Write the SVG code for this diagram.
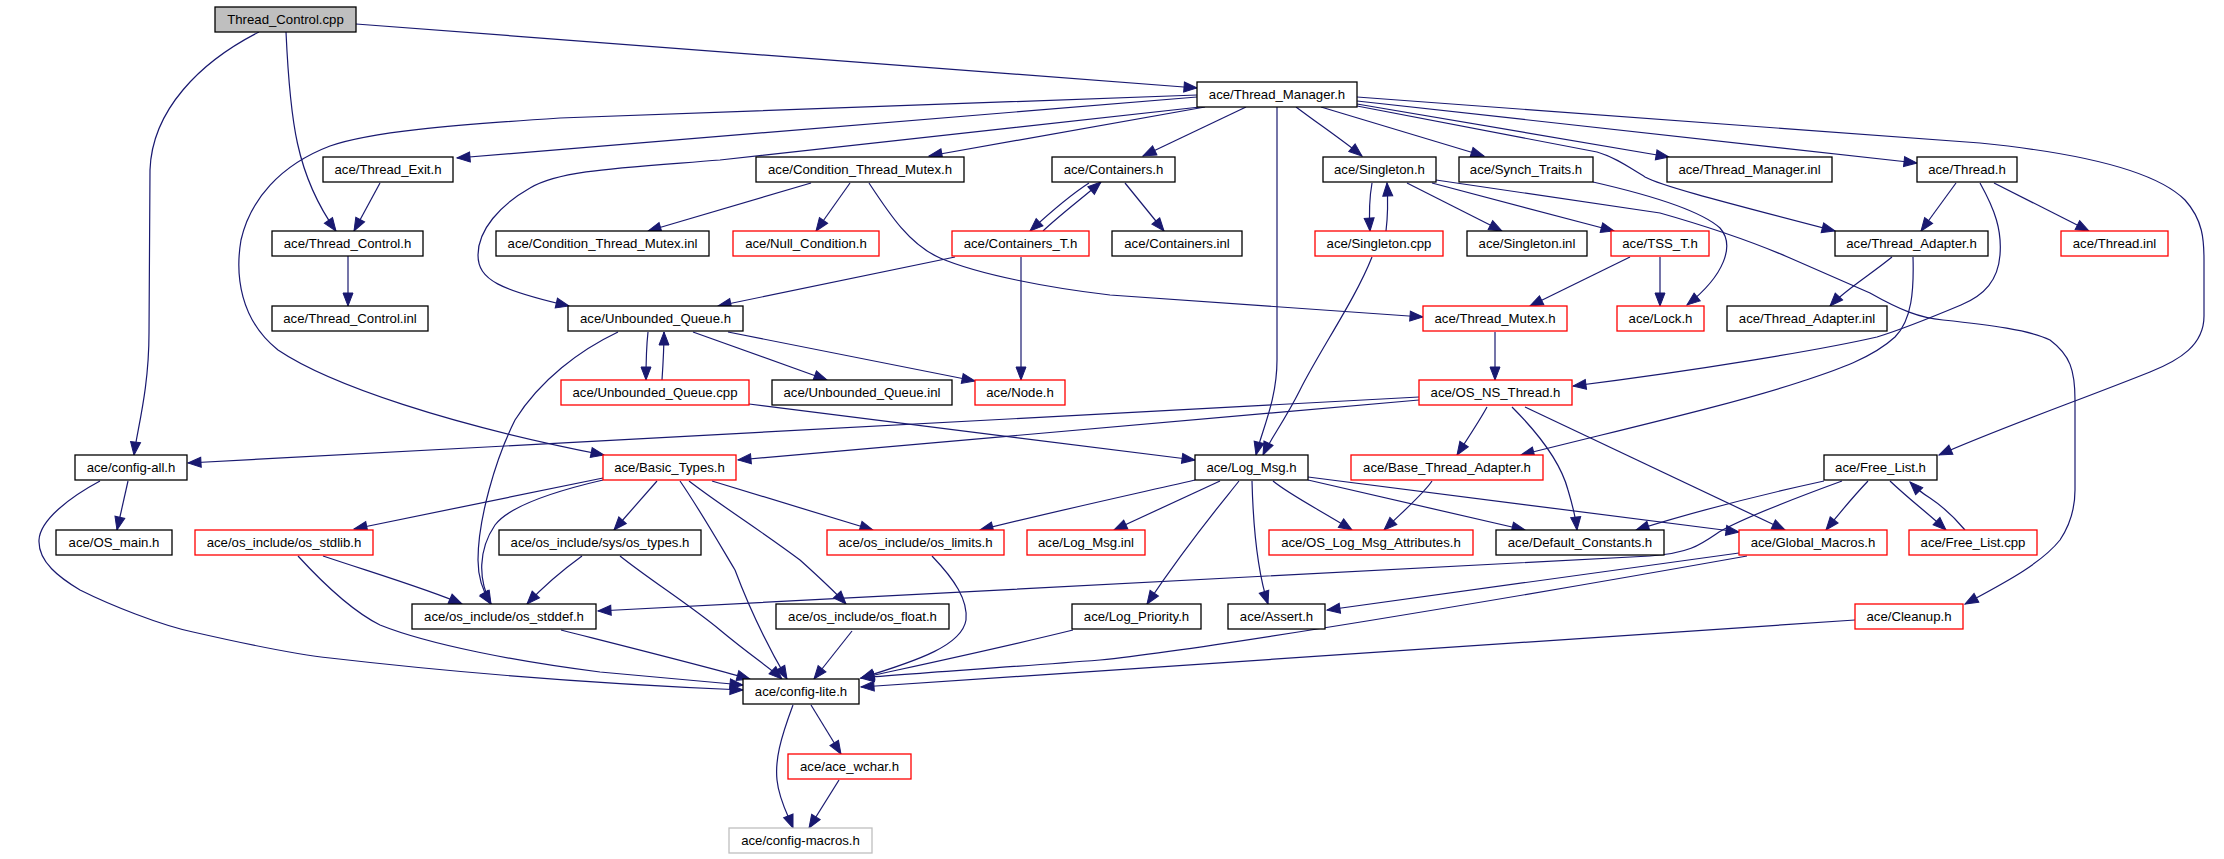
<svg xmlns="http://www.w3.org/2000/svg" width="2224" height="859" viewBox="0 0 2224 859">
<style>
.n rect{fill:#fff;stroke:#000;stroke-width:1.3}
.n.r rect{stroke:#f00}
.n.g rect{stroke:#bfbfbf}
.n.s rect{fill:#bfbfbf}
text{font-family:"Liberation Sans",Arial,sans-serif;font-size:13.2px;text-anchor:middle;fill:#000}
#edges path{fill:none;stroke:#191970;stroke-width:1.2;marker-end:url(#a)}
</style>
<defs>
<marker id="a" markerWidth="15" markerHeight="12" refX="13" refY="5" orient="auto" markerUnits="userSpaceOnUse" overflow="visible">
<path d="M0,0 L13,5 L0,10 z" fill="#191970" stroke="#191970" stroke-width="1"/>
</marker>
</defs>
<rect width="2224" height="859" fill="#fff"/>
<g id="edges">
<path d="M356,24 L1197,88"/>
<path d="M286,32 C290,120 296,175 336,231"/>
<path d="M259,32 C200,62 152,110 150,170 L149,333 C149,390 137,430 134,455"/>
<path d="M1197,97 L457,158"/>
<path d="M1197,95 L560,118 C450,125 370,132 330,146 C280,165 250,200 241,240 C235,275 240,320 278,350 C330,385 450,425 604,455"/>
<path d="M1200,107 L720,160 C620,168 560,170 530,188 C500,205 478,230 478,255 C478,280 500,290 569,306"/>
<path d="M1205,107 L929,156"/>
<path d="M1246,107 L1143,156"/>
<path d="M1277,107 L1277,360 C1277,400 1262,430 1256,455"/>
<path d="M1296,107 C1320,125 1345,142 1362,156"/>
<path d="M1321,107 L1484,156"/>
<path d="M1357,104 L1669,157"/>
<path d="M1357,101 L1917,163"/>
<path d="M1357,97 L1980,143 C2100,155 2160,175 2185,200 C2203,220 2204,240 2204,260 L2204,316 C2204,345 2180,360 2150,372 C2080,400 2000,428 1939,455"/>
<path d="M1357,106 L1597,152 C1615,157 1630,168 1645,177 C1660,185 1700,196 1835,231"/>
<path d="M1593,182 C1650,195 1700,210 1720,228 C1735,245 1725,275 1687,305"/>
<path d="M1436,180 L1660,213 C1720,230 1760,245 1790,258 L1870,293 C1900,310 1920,318 1943,320 C1990,325 2030,330 2050,340 C2070,355 2075,370 2075,400 L2075,490 C2075,510 2070,525 2060,540 C2040,565 2000,585 1965,604"/>
<path d="M1980,183 C1995,210 2002,230 2000,255 C1998,280 1985,295 1961,305 C1930,318 1900,330 1877,337 C1820,350 1700,370 1573,386"/>
<path d="M1913,257 C1914,290 1912,320 1895,337 C1870,360 1830,372 1800,382 C1730,405 1620,430 1521,455"/>
<path d="M1956,183 L1921,231"/>
<path d="M1994,183 L2089,231"/>
<path d="M1892,257 C1870,275 1845,290 1830,306"/>
<path d="M1630,257 L1530,306"/>
<path d="M1660,257 L1660,306"/>
<path d="M1495,332 L1495,380"/>
<path d="M1372,183 C1369,200 1369,215 1370,231"/>
<path d="M1386,231 C1388,215 1388,200 1387,183"/>
<path d="M1407,183 L1502,231"/>
<path d="M1432,183 L1614,231"/>
<path d="M1372,257 C1355,300 1320,350 1300,390 C1285,420 1270,440 1263,455"/>
<path d="M811,183 L648,231"/>
<path d="M850,183 L816,231"/>
<path d="M869,183 C890,215 910,245 940,258 C980,275 1050,288 1110,295 L1423,317"/>
<path d="M1089,183 C1075,192 1055,208 1030,231"/>
<path d="M1043,231 C1060,215 1080,200 1101,182"/>
<path d="M1125,183 L1164,231"/>
<path d="M955,257 L718,306"/>
<path d="M1021,257 L1021,380"/>
<path d="M728,332 L975,381"/>
<path d="M693,332 L827,380"/>
<path d="M648,332 C646,350 646,365 646,380"/>
<path d="M662,380 C663,365 664,350 664,332"/>
<path d="M618,332 C580,350 540,380 515,420 C495,460 478,520 478,560 C478,580 485,595 491,604"/>
<path d="M603,480 C560,490 510,505 495,525 C478,550 478,580 491,604"/>
<path d="M603,478 L354,529"/>
<path d="M657,481 L614,530"/>
<path d="M680,481 C700,510 720,545 735,570 C750,610 770,650 787,679"/>
<path d="M689,481 C720,505 760,530 800,560 C820,578 835,592 846,604"/>
<path d="M712,481 L873,530"/>
<path d="M582,556 C560,572 540,590 527,604"/>
<path d="M620,556 C650,580 690,605 720,630 C750,655 770,668 782,679"/>
<path d="M561,630 C620,645 700,665 750,679"/>
<path d="M323,556 C380,575 430,590 462,604"/>
<path d="M298,556 C320,580 350,610 380,625 C430,645 520,662 600,672 L743,685"/>
<path d="M100,481 C70,497 40,520 39,540 C38,562 60,578 80,590 C110,605 160,625 193,632 C250,645 300,655 330,658 C450,672 600,684 743,690"/>
<path d="M128,481 L117,530"/>
<path d="M1419,397 L188,463"/>
<path d="M1419,400 L738,460"/>
<path d="M1487,407 C1480,420 1468,438 1457,455"/>
<path d="M1512,407 C1535,430 1560,460 1568,490 C1574,510 1576,520 1577,530"/>
<path d="M1525,407 L1785,530"/>
<path d="M749,404 L1195,460"/>
<path d="M1195,480 C1130,495 1060,510 980,530"/>
<path d="M1220,481 L1114,530"/>
<path d="M1239,481 C1220,505 1190,540 1147,604"/>
<path d="M1252,481 C1253,520 1257,570 1268,604"/>
<path d="M1273,481 C1290,495 1320,510 1352,530"/>
<path d="M1432,481 C1425,492 1410,505 1384,530"/>
<path d="M1308,480 L1525,530"/>
<path d="M1308,477 L1739,532"/>
<path d="M1824,481 C1760,495 1700,510 1636,530"/>
<path d="M1868,481 C1850,500 1838,515 1826,530"/>
<path d="M1890,481 C1910,500 1930,515 1946,530"/>
<path d="M1965,530 C1955,518 1945,508 1930,498 C1920,492 1915,487 1910,482"/>
<path d="M1842,481 C1790,500 1740,520 1719,532 C1700,545 1690,553 1650,556 L598,611"/>
<path d="M1739,553 L1327,610"/>
<path d="M1747,556 C1500,600 1200,650 1100,660 C1000,668 900,674 861,678"/>
<path d="M1855,620 L861,687"/>
<path d="M1073,630 C1000,648 920,665 861,678"/>
<path d="M932,556 C955,580 968,600 966,620 C962,645 920,660 861,678"/>
<path d="M852,631 L814,679"/>
<path d="M811,705 L841,754"/>
<path d="M793,705 C780,740 775,760 777,780 C779,800 788,815 793,828"/>
<path d="M839,780 L809,828"/>
<path d="M380,183 L354,231"/>
<path d="M348,256 L348,306"/>
</g>
<g id="n1" class="n s"><rect x="215" y="7" width="141" height="25"/><text x="285.5" y="24">Thread_Control.cpp</text></g>
<g id="n2" class="n"><rect x="1197" y="82" width="160" height="25"/><text x="1277" y="99">ace/Thread_Manager.h</text></g>
<g id="n3" class="n"><rect x="323" y="157" width="130" height="25"/><text x="388" y="174">ace/Thread_Exit.h</text></g>
<g id="n4" class="n"><rect x="756" y="157" width="208" height="25"/><text x="860" y="174">ace/Condition_Thread_Mutex.h</text></g>
<g id="n5" class="n"><rect x="1052" y="157" width="123" height="25"/><text x="1113.5" y="174">ace/Containers.h</text></g>
<g id="n6" class="n"><rect x="1323" y="157" width="113" height="25"/><text x="1379.5" y="174">ace/Singleton.h</text></g>
<g id="n7" class="n"><rect x="1459" y="157" width="134" height="25"/><text x="1526" y="174">ace/Synch_Traits.h</text></g>
<g id="n8" class="n"><rect x="1667" y="157" width="165" height="25"/><text x="1749.5" y="174">ace/Thread_Manager.inl</text></g>
<g id="n9" class="n"><rect x="1917" y="157" width="100" height="25"/><text x="1967" y="174">ace/Thread.h</text></g>
<g id="n10" class="n"><rect x="272" y="231" width="151" height="25"/><text x="347.5" y="248">ace/Thread_Control.h</text></g>
<g id="n11" class="n"><rect x="496" y="231" width="213" height="25"/><text x="602.5" y="248">ace/Condition_Thread_Mutex.inl</text></g>
<g id="n12" class="n r"><rect x="733" y="231" width="146" height="25"/><text x="806" y="248">ace/Null_Condition.h</text></g>
<g id="n13" class="n r"><rect x="952" y="231" width="137" height="25"/><text x="1020.5" y="248">ace/Containers_T.h</text></g>
<g id="n14" class="n"><rect x="1112" y="231" width="130" height="25"/><text x="1177" y="248">ace/Containers.inl</text></g>
<g id="n15" class="n r"><rect x="1315" y="231" width="128" height="25"/><text x="1379" y="248">ace/Singleton.cpp</text></g>
<g id="n16" class="n"><rect x="1467" y="231" width="120" height="25"/><text x="1527" y="248">ace/Singleton.inl</text></g>
<g id="n17" class="n r"><rect x="1611" y="231" width="98" height="25"/><text x="1660" y="248">ace/TSS_T.h</text></g>
<g id="n18" class="n"><rect x="1835" y="231" width="153" height="25"/><text x="1911.5" y="248">ace/Thread_Adapter.h</text></g>
<g id="n19" class="n r"><rect x="2061" y="231" width="107" height="25"/><text x="2114.5" y="248">ace/Thread.inl</text></g>
<g id="n20" class="n"><rect x="272" y="306" width="156" height="25"/><text x="350" y="323">ace/Thread_Control.inl</text></g>
<g id="n21" class="n"><rect x="568" y="306" width="175" height="25"/><text x="655.5" y="323">ace/Unbounded_Queue.h</text></g>
<g id="n22" class="n r"><rect x="1423" y="306" width="144" height="25"/><text x="1495" y="323">ace/Thread_Mutex.h</text></g>
<g id="n23" class="n r"><rect x="1617" y="306" width="87" height="25"/><text x="1660.5" y="323">ace/Lock.h</text></g>
<g id="n24" class="n"><rect x="1727" y="306" width="160" height="25"/><text x="1807" y="323">ace/Thread_Adapter.inl</text></g>
<g id="n25" class="n r"><rect x="561" y="380" width="188" height="25"/><text x="655" y="397">ace/Unbounded_Queue.cpp</text></g>
<g id="n26" class="n"><rect x="772" y="380" width="180" height="25"/><text x="862" y="397">ace/Unbounded_Queue.inl</text></g>
<g id="n27" class="n r"><rect x="975" y="380" width="90" height="25"/><text x="1020" y="397">ace/Node.h</text></g>
<g id="n28" class="n r"><rect x="1419" y="380" width="153" height="25"/><text x="1495.5" y="397">ace/OS_NS_Thread.h</text></g>
<g id="n29" class="n"><rect x="75" y="455" width="112" height="25"/><text x="131" y="472">ace/config-all.h</text></g>
<g id="n30" class="n r"><rect x="603" y="455" width="133" height="25"/><text x="669.5" y="472">ace/Basic_Types.h</text></g>
<g id="n31" class="n"><rect x="1195" y="455" width="113" height="25"/><text x="1251.5" y="472">ace/Log_Msg.h</text></g>
<g id="n32" class="n r"><rect x="1351" y="455" width="192" height="25"/><text x="1447" y="472">ace/Base_Thread_Adapter.h</text></g>
<g id="n33" class="n"><rect x="1824" y="455" width="113" height="25"/><text x="1880.5" y="472">ace/Free_List.h</text></g>
<g id="n34" class="n"><rect x="56" y="530" width="116" height="25"/><text x="114" y="547">ace/OS_main.h</text></g>
<g id="n35" class="n r"><rect x="195" y="530" width="178" height="25"/><text x="284" y="547">ace/os_include/os_stdlib.h</text></g>
<g id="n36" class="n"><rect x="499" y="530" width="202" height="25"/><text x="600" y="547">ace/os_include/sys/os_types.h</text></g>
<g id="n37" class="n r"><rect x="827" y="530" width="177" height="25"/><text x="915.5" y="547">ace/os_include/os_limits.h</text></g>
<g id="n38" class="n r"><rect x="1027" y="530" width="118" height="25"/><text x="1086" y="547">ace/Log_Msg.inl</text></g>
<g id="n39" class="n r"><rect x="1269" y="530" width="204" height="25"/><text x="1371" y="547">ace/OS_Log_Msg_Attributes.h</text></g>
<g id="n40" class="n"><rect x="1496" y="530" width="168" height="25"/><text x="1580" y="547">ace/Default_Constants.h</text></g>
<g id="n41" class="n r"><rect x="1739" y="530" width="148" height="25"/><text x="1813" y="547">ace/Global_Macros.h</text></g>
<g id="n42" class="n r"><rect x="1909" y="530" width="128" height="25"/><text x="1973" y="547">ace/Free_List.cpp</text></g>
<g id="n43" class="n"><rect x="412" y="604" width="184" height="25"/><text x="504" y="621">ace/os_include/os_stddef.h</text></g>
<g id="n44" class="n"><rect x="776" y="604" width="173" height="25"/><text x="862.5" y="621">ace/os_include/os_float.h</text></g>
<g id="n45" class="n"><rect x="1072" y="604" width="129" height="25"/><text x="1136.5" y="621">ace/Log_Priority.h</text></g>
<g id="n46" class="n"><rect x="1228" y="604" width="97" height="25"/><text x="1276.5" y="621">ace/Assert.h</text></g>
<g id="n47" class="n r"><rect x="1855" y="604" width="108" height="25"/><text x="1909" y="621">ace/Cleanup.h</text></g>
<g id="n48" class="n"><rect x="743" y="679" width="116" height="25"/><text x="801" y="696">ace/config-lite.h</text></g>
<g id="n49" class="n r"><rect x="788" y="754" width="123" height="25"/><text x="849.5" y="771">ace/ace_wchar.h</text></g>
<g id="n50" class="n g"><rect x="729" y="828" width="143" height="25"/><text x="800.5" y="845">ace/config-macros.h</text></g>
</svg>
